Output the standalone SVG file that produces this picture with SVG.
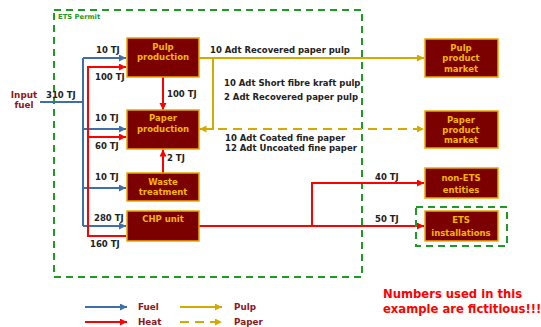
<svg xmlns="http://www.w3.org/2000/svg" width="541" height="327" viewBox="0 0 541 327">
<style>
.box{fill:#7b0000;stroke:#e8a800;stroke-width:1.5}
.bt{font-family:"DejaVu Sans",Verdana,sans-serif;font-weight:bold;font-size:8.5px;fill:#f2b600;text-anchor:middle}
.lb{font-family:"DejaVu Sans",Verdana,sans-serif;font-weight:bold;font-size:8.5px;fill:#222}
.lg{font-family:"DejaVu Sans",Verdana,sans-serif;font-weight:bold;font-size:8.8px;fill:#8b1a1a}
.fu{fill:none;stroke:#3f6fa6;stroke-width:2}
.he{fill:none;stroke:#ff0000;stroke-width:2}
.pu{fill:none;stroke:#d4aa00;stroke-width:2}
.pa{fill:none;stroke:#d4aa00;stroke-width:2;stroke-dasharray:9,6}
.gd{fill:none;stroke:#1f9a24;stroke-width:2;stroke-dasharray:7,5}
</style>
<defs>
<marker id="ab" markerUnits="userSpaceOnUse" markerWidth="8" markerHeight="8" refX="7" refY="3.5" orient="auto"><path d="M0,0 L7,3.5 L0,7 z" fill="#3f6fa6"/></marker>
<marker id="ar" markerUnits="userSpaceOnUse" markerWidth="8" markerHeight="8" refX="7" refY="3.5" orient="auto"><path d="M0,0 L7,3.5 L0,7 z" fill="#ff0000"/></marker>
<marker id="ay" markerUnits="userSpaceOnUse" markerWidth="8" markerHeight="8" refX="7" refY="3.5" orient="auto"><path d="M0,0 L7,3.5 L0,7 z" fill="#d4aa00"/></marker>
</defs>
<rect width="541" height="327" fill="#fff"/>

<g id="ets-permit">
<rect class="gd" x="54" y="10" width="308" height="267"/>
<text x="58" y="19" font-family="DejaVu Sans,sans-serif" font-weight="bold" font-size="6.8px" fill="#1f9a24">ETS Permit</text>
</g>

<g id="connectors">
<path class="fu" d="M40,102 H83"/>
<path class="fu" d="M83,58 V226"/>
<path class="fu" d="M83,58 H126" marker-end="url(#ab)"/>
<path class="fu" d="M83,129 H126" marker-end="url(#ab)"/>
<path class="fu" d="M83,188 H126" marker-end="url(#ab)"/>
<path class="fu" d="M83,226 H126" marker-end="url(#ab)"/>
<path class="he" d="M126,236 H88 V67 H126" marker-end="url(#ar)"/>
<path class="he" d="M88,137 H126" marker-end="url(#ar)"/>
<path class="he" d="M163,77 V110" marker-end="url(#ar)"/>
<path class="he" d="M163,173 V149.5" marker-end="url(#ar)"/>
<path class="he" d="M198,226 H424" marker-end="url(#ar)"/>
<path class="he" d="M312,226 V183 H424" marker-end="url(#ar)"/>
<path class="pu" d="M199,58 H424" marker-end="url(#ay)"/>
<path class="pu" d="M213,58 V129 H199.5" marker-end="url(#ay)"/>
<path class="pa" d="M218,129 H424" marker-end="url(#ay)"/>
</g>

<g id="flow-labels">
<text class="lb" x="46" y="98">310 TJ</text>
<text class="lb" x="96" y="53">10 TJ</text>
<text class="lb" x="95" y="80">100 TJ</text>
<text class="lb" x="167" y="97">100 TJ</text>
<text class="lb" x="95" y="121">10 TJ</text>
<text class="lb" x="95" y="149">60 TJ</text>
<text class="lb" x="167" y="161">2 TJ</text>
<text class="lb" x="95" y="180">10 TJ</text>
<text class="lb" x="94" y="221">280 TJ</text>
<text class="lb" x="90" y="247">160 TJ</text>
<text class="lb" x="375" y="180">40 TJ</text>
<text class="lb" x="375" y="222">50 TJ</text>
<text class="lb" x="210" y="53" font-size="8.3px">10 Adt Recovered paper pulp</text>
<text class="lb" x="224" y="86" font-size="8.3px">10 Adt Short fibre kraft pulp</text>
<text class="lb" x="224" y="100" font-size="8.3px">2 Adt Recovered paper pulp</text>
<text class="lb" x="225" y="141" font-size="8.3px">10 Adt Coated fine paper</text>
<text class="lb" x="225" y="151" font-size="8.3px">12 Adt Uncoated fine paper</text>
</g>

<g id="input-fuel">
<text class="lg" x="24" y="98" text-anchor="middle">Input</text>
<text class="lg" x="24" y="108" text-anchor="middle">fuel</text>
</g>

<g id="pulp-production">
<rect class="box" x="127" y="38" width="72" height="39"/>
<text class="bt" x="163" y="50">Pulp</text>
<text class="bt" x="163" y="60">production</text>
</g>
<g id="paper-production">
<rect class="box" x="127" y="110" width="72" height="39"/>
<text class="bt" x="163" y="121">Paper</text>
<text class="bt" x="163" y="132">production</text>
</g>
<g id="waste-treatment">
<rect class="box" x="127" y="173" width="72" height="28"/>
<text class="bt" x="163" y="185">Waste</text>
<text class="bt" x="163" y="195">treatment</text>
</g>
<g id="chp-unit">
<rect class="box" x="127" y="211" width="72" height="30"/>
<text class="bt" x="163" y="222">CHP unit</text>
</g>
<g id="pulp-market">
<rect class="box" x="425" y="39" width="73" height="38"/>
<text class="bt" x="461" y="51">Pulp</text>
<text class="bt" x="461" y="61">product</text>
<text class="bt" x="461" y="72">market</text>
</g>
<g id="paper-market">
<rect class="box" x="425" y="111" width="73" height="37"/>
<text class="bt" x="461" y="123">Paper</text>
<text class="bt" x="461" y="133">product</text>
<text class="bt" x="461" y="143">market</text>
</g>
<g id="non-ets">
<rect class="box" x="425" y="168" width="73" height="30"/>
<text class="bt" x="461" y="181">non-ETS</text>
<text class="bt" x="461" y="193">entities</text>
</g>
<g id="ets-installations">
<rect class="gd" x="416" y="207" width="91" height="39"/>
<rect class="box" x="425" y="211" width="73" height="30"/>
<text class="bt" x="461" y="223">ETS</text>
<text class="bt" x="461" y="236">installations</text>
</g>

<g id="legend">
<path class="fu" d="M85,307 H127" marker-end="url(#ab)"/>
<path class="he" d="M85,322 H127" marker-end="url(#ar)"/>
<path class="pu" d="M180,307 H222" marker-end="url(#ay)"/>
<path class="pa" d="M180,322 H222" marker-end="url(#ay)"/>
<text class="lg" x="138" y="310">Fuel</text>
<text class="lg" x="138" y="325">Heat</text>
<text class="lg" x="234" y="310">Pulp</text>
<text class="lg" x="234" y="325">Paper</text>
</g>

<g id="note">
<text x="383" y="298" font-family="DejaVu Sans,sans-serif" font-weight="bold" font-size="11.6px" fill="#ff0000">Numbers used in this</text>
<text x="383" y="313" font-family="DejaVu Sans,sans-serif" font-weight="bold" font-size="11.6px" fill="#ff0000">example are fictitious!!!</text>
</g>
</svg>
